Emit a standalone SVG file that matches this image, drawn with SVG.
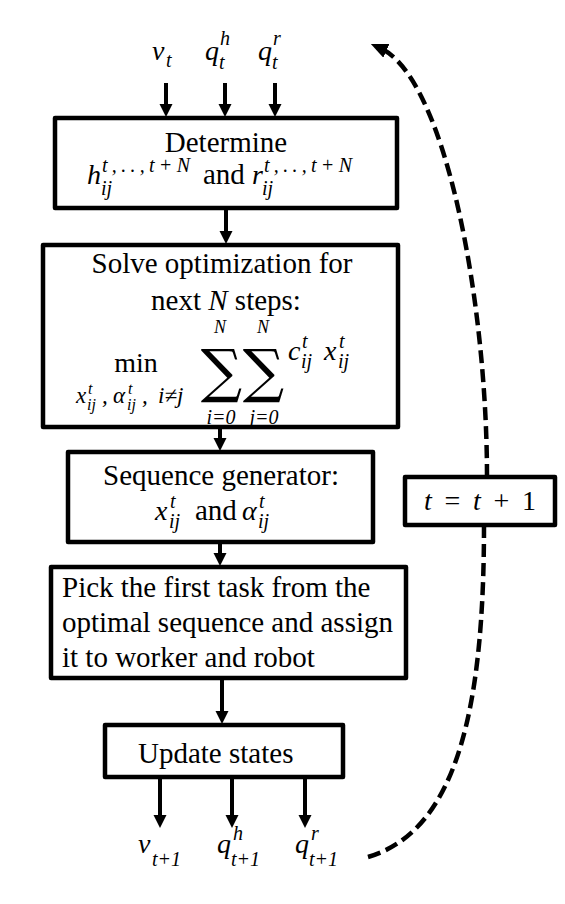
<svg xmlns="http://www.w3.org/2000/svg" width="565" height="904" viewBox="0 0 565 904">
<defs>
<style>
.box{fill:#fff;stroke:#000;stroke-width:4.5;stroke-linejoin:round}
.txt{font-family:"Liberation Serif",serif;font-size:29px;fill:#000}
.up{font-family:"Liberation Serif",serif;font-size:28px;fill:#000}
.m{font-family:"Liberation Serif",serif;font-style:italic;font-size:28px;fill:#000}
.s{font-family:"Liberation Serif",serif;font-style:italic;font-size:20px;fill:#000}
.sn{font-family:"Liberation Serif",serif;font-style:italic;font-size:18px;fill:#000}
.ss{font-family:"Liberation Serif",serif;font-style:italic;font-size:16px;fill:#000}
.sm{font-family:"Liberation Serif",serif;font-style:italic;font-size:23px;fill:#000}
.sig{font-family:"DejaVu Serif",serif;font-size:58px;fill:#000}
.arr{stroke:#000;stroke-width:4;fill:none;marker-end:url(#ah)}
.dash{fill:none;stroke:#000;stroke-width:4.5;stroke-dasharray:13 6}
</style>
<marker id="ah" markerUnits="userSpaceOnUse" markerWidth="14" markerHeight="14" refX="6" refY="6.5" orient="auto">
<path d="M0,0 L13,6.5 L0,13 z" fill="#000"/>
</marker>
<marker id="dh" markerUnits="userSpaceOnUse" markerWidth="18" markerHeight="16" refX="7" refY="7.5" orient="auto">
<path d="M0,0 L17,7.5 L0,15 z" fill="#000"/>
</marker>
</defs>

<g id="connectors">
<line class="arr" x1="166" y1="83" x2="166" y2="110"/>
<line class="arr" x1="225" y1="83" x2="225" y2="110"/>
<line class="arr" x1="275" y1="83" x2="275" y2="110"/>
<line class="arr" x1="226" y1="208" x2="226" y2="237"/>
<line class="arr" x1="220" y1="427" x2="220" y2="444"/>
<line class="arr" x1="220" y1="542" x2="220" y2="559"/>
<line class="arr" x1="222" y1="678" x2="222" y2="717"/>
<line class="arr" x1="160" y1="777" x2="160" y2="821"/>
<line class="arr" x1="232" y1="777" x2="232" y2="821"/>
<line class="arr" x1="305" y1="777" x2="305" y2="821"/>
<path class="dash" d="M 368 857 C 460 830 484 700 484 525"/>
<path class="dash" d="M 487 477 C 487 300 445 77 380 48" marker-end="url(#dh)"/>
</g>

<g id="inputs">
<text class="m" x="152" y="60">v</text><text class="s" x="166" y="67">t</text>
<text class="m" x="205" y="60">q</text><text class="s" x="220" y="45">h</text><text class="s" x="219" y="69">t</text>
<text class="m" x="258" y="60">q</text><text class="s" x="273" y="45">r</text><text class="s" x="272" y="69">t</text>
</g>

<g id="determine">
<rect class="box" x="55" y="118" width="342" height="90"/>
<text class="txt" x="226" y="152" text-anchor="middle">Determine</text>
<text class="m" x="87" y="184">h</text>
<text class="s" x="102" y="172" textLength="88" lengthAdjust="spacing">t,..,t+N</text>
<text class="s" x="101" y="195">ij</text>
<text class="txt" x="203" y="184">and</text>
<text class="m" x="252" y="184">r</text>
<text class="s" x="264" y="172" textLength="88" lengthAdjust="spacing">t,..,t+N</text>
<text class="s" x="262" y="195">ij</text>
</g>

<g id="optimize">
<rect class="box" x="43" y="245" width="355" height="182"/>
<text class="txt" x="222" y="273" text-anchor="middle">Solve optimization for</text>
<text class="txt" x="226" y="310" text-anchor="middle">next <tspan font-style="italic">N</tspan> steps:</text>
<text class="up" x="136" y="372" text-anchor="middle">min</text>
<text class="sm" x="76" y="403">x</text><text class="ss" x="88" y="394">t</text><text class="ss" x="87" y="410">ij</text>
<text class="sm" x="102" y="403">,</text>
<text class="sm" x="113" y="403">α</text><text class="ss" x="128" y="394">t</text><text class="ss" x="127" y="410">ij</text>
<text class="sm" x="142" y="403">,</text>
<text class="sm" x="158" y="403">i≠j</text>
<text class="sn" x="220" y="333" text-anchor="middle">N</text>
<text class="sn" x="263" y="333" text-anchor="middle">N</text>
<text class="sig" x="221.5" y="391" text-anchor="middle">∑</text>
<text class="sig" x="263.5" y="391" text-anchor="middle">∑</text>
<text class="s" x="221" y="424" text-anchor="middle">i=0</text>
<text class="s" x="264" y="424" text-anchor="middle">j=0</text>
<text class="m" x="288" y="360">c</text><text class="s" x="302" y="348">t</text><text class="s" x="301" y="368">ij</text>
<text class="m" x="324" y="360">x</text><text class="s" x="339" y="348">t</text><text class="s" x="338" y="368">ij</text>
</g>

<g id="sequence">
<rect class="box" x="68" y="452" width="305" height="90"/>
<text class="txt" x="221" y="485" text-anchor="middle">Sequence generator:</text>
<text class="m" x="155" y="520">x</text><text class="s" x="170" y="508">t</text><text class="s" x="169" y="528">ij</text>
<text class="txt" x="195" y="520">and</text>
<text class="m" x="242" y="520">α</text><text class="s" x="259" y="508">t</text><text class="s" x="258" y="528">ij</text>
</g>

<g id="pick">
<rect class="box" x="51" y="567" width="355" height="111"/>
<text class="txt" x="62" y="597">Pick the first task from the</text>
<text class="txt" x="62" y="632">optimal sequence and assign</text>
<text class="txt" x="62" y="667">it to worker and robot</text>
</g>

<g id="update">
<rect class="box" x="105" y="725" width="238" height="52"/>
<text class="txt" x="138" y="763">Update states</text>
</g>

<g id="increment">
<rect class="box" x="405" y="477" width="150" height="48"/>
<text class="up" x="480" y="510" text-anchor="middle" textLength="112" lengthAdjust="spacing"><tspan font-style="italic">t</tspan> = <tspan font-style="italic">t</tspan> + 1</text>
</g>

<g id="outputs">
<text class="m" x="138" y="853">v</text><text class="s" x="152" y="866">t+1</text>
<text class="m" x="217" y="853">q</text><text class="s" x="233" y="840">h</text><text class="s" x="231" y="866">t+1</text>
<text class="m" x="295" y="853">q</text><text class="s" x="311" y="840">r</text><text class="s" x="309" y="866">t+1</text>
</g>
</svg>
